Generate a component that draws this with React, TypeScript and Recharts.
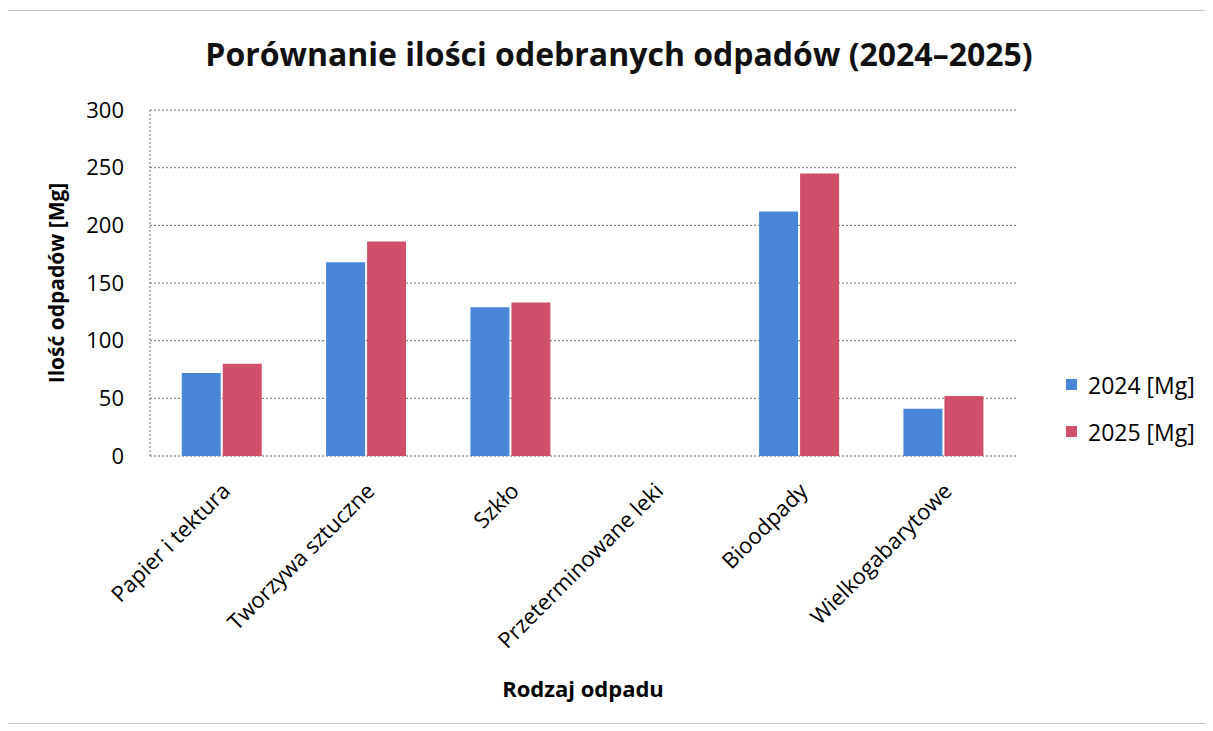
import React from 'react';
import { BarChart, Bar, XAxis, YAxis, CartesianGrid, Legend } from 'recharts';

const categories = ['Papier i tektura', 'Tworzywa sztuczne', 'Szkło', 'Przeterminowane leki', 'Bioodpady', 'Wielkogabarytowe'];
const values2024 = [72, 168, 129, 0, 212, 41];
const values2025 = [80, 186, 133, 0, 245, 52];
const yTicks = [0, 50, 100, 150, 200, 250, 300];

const FONT = '"Open Sans", sans-serif';
const BLUE = '#4a86d8';
const RED = '#cf5068';

const data = categories.map((name, i) => ({
    name,
    y2024: values2024[i],
    y2025: values2025[i],
}));

// rotated category labels, text ends just right of the category centre
const CategoryTick = (props: any) => {
    const { x, y, payload } = props;
    return (
        <g transform={`translate(${x + 4},${y + 31})`}>
            <text x={0} y={0} dy="0.35em" textAnchor="end" transform="rotate(-45)"
                fontSize={22} fill="#000" fontFamily={FONT}>
                {payload.value}
            </text>
        </g>
    );
};

const LegendBox = (props: any) => {
    const { payload } = props;
    return (
        <div style={{ fontFamily: FONT, fontSize: 23, color: '#000' }}>
            {(payload || []).map((p: any) => (
                <div key={p.value} style={{ height: 47, display: 'flex', alignItems: 'center' }}>
                    <span style={{ display: 'inline-block', width: 11, height: 11, background: p.color, marginRight: 11 }} />
                    <span>{p.value}</span>
                </div>
            ))}
        </div>
    );
};

export default function App() {
    return (
        <div style={{
            position: 'relative', width: 1212, height: 712, margin: '2px 0 0 -2px',
            border: '1px solid #c4c4c4', background: '#fff', boxSizing: 'content-box'
        }}>
            <div style={{
                position: 'absolute', top: 27, left: 0, width: 1224, textAlign: 'center',
                fontFamily: FONT, fontWeight: 700, fontSize: 32, lineHeight: 1, color: '#111'
            }}>
                Porównanie ilości odebranych odpadów (2024–2025)
            </div>
            <BarChart
                width={1210}
                height={710}
                data={data}
                margin={{ top: 99, right: 201, left: 32, bottom: 20 }}
                barCategoryGap="22%"
                barGap={2}
            >
                <CartesianGrid vertical={false} stroke="#6e6e6e" strokeDasharray="2 2" />
                <XAxis
                    dataKey="name"
                    interval={0}
                    height={245}
                    axisLine={false}
                    tickLine={false}
                    tickSize={0}
                    tickMargin={0}
                    tick={<CategoryTick />}
                    label={{ value: 'Rodzaj odpadu', position: 'insideBottom', offset: 4, fontSize: 22, fontWeight: 700, fill: '#000', fontFamily: FONT }}
                />
                <YAxis
                    width={111}
                    domain={[0, 300]}
                    ticks={yTicks}
                    interval={0}
                    tickLine={false}
                    tickSize={0}
                    tickMargin={26}
                    axisLine={{ stroke: '#6e6e6e', strokeDasharray: '2 2' }}
                    tick={{ fontSize: 22, fill: '#000', fontFamily: FONT }}
                    label={{ value: 'Ilość odpadów [Mg]', angle: -90, position: 'insideLeft', offset: 18, fontSize: 21, fontWeight: 700, fill: '#000', fontFamily: FONT, style: { textAnchor: 'middle' } }}
                />
                <Legend
                    layout="vertical"
                    align="center"
                    verticalAlign="middle"
                    content={<LegendBox />}
                    wrapperStyle={{ left: 1059, top: 350, width: 150, height: 94 }}
                />
                <Bar name="2024 [Mg]" dataKey="y2024" fill={BLUE} isAnimationActive={false} />
                <Bar name="2025 [Mg]" dataKey="y2025" fill={RED} isAnimationActive={false} />
            </BarChart>
        </div>
    );
}
